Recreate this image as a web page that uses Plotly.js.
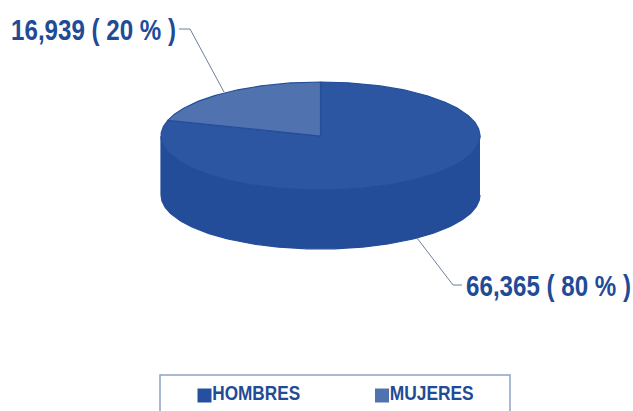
<!DOCTYPE html>
<html>
<head>
<meta charset="utf-8">
<script src="https://cdn.plot.ly/plotly-3.0.1.min.js"></script>
<style>html,body{margin:0;padding:0;background:#fff;overflow:hidden}#c{width:633px;height:411px}</style>
</head>
<body>
<div id="c"></div>
<script>
const categories = ["HOMBRES", "MUJERES"];
const values = [66365, 16939];
const percents = [80, 20];
const topColors = ["#2c56a1", "#5073af"];
const swatchColors = ["#2550a0", "#5073af"];

const sideColor = "#234c99";
const edgeColor = "#234e9b";
const textColor = "#1f4b97";
const FONT = '"Liberation Sans",Arial,sans-serif';

// pie geometry on the pixel-like axes
const cx = 320.5, cy = 136, rx = 159.5, ry = 54, depth = 59;
const total = values.reduce((a, b) => a + b, 0);
const pt = (deg, dy) => [cx + rx * Math.sin(deg * Math.PI / 180), cy - ry * Math.cos(deg * Math.PI / 180) + (dy || 0)];

function arc(a0, a1, dy) {
  const out = [];
  const n = Math.max(2, Math.ceil(Math.abs(a1 - a0)));
  for (let i = 0; i <= n; i++) out.push(pt(a0 + (a1 - a0) * i / n, dy));
  return out;
}
function poly(points, color, line, name) {
  return {
    type: "scatter", mode: "lines", fill: "toself", fillcolor: color,
    x: points.map(p => p[0]), y: points.map(p => p[1]),
    line: { color: line, width: 1.2 }, hoverinfo: "skip", showlegend: false, name: name
  };
}

const traces = [];
traces.push(poly(arc(90, 270, 0).concat(arc(270, 90, depth)), sideColor, sideColor, "side"));
let start = 0;
values.forEach((v, i) => {
  const sweep = v / total * 360;
  const pts = arc(start, start + sweep, 0);
  pts.push([cx, cy]); pts.push(pts[0]);
  traces.push(poly(pts, topColors[i], edgeColor, categories[i]));
  start += sweep;
});
traces.push({
  type: "scatter", mode: "markers+text",
  x: [204.5, 382], y: [395.5, 395.5],
  text: categories, textposition: "middle right",
  textfont: { family: FONT, size: 20, color: textColor, weight: 700 },
  marker: { symbol: "square", size: 14, color: swatchColors, line: { width: 0 } },
  hoverinfo: "skip", showlegend: false, cliponaxis: false
});

const label = i => values[i].toLocaleString("en-US") + " ( " + percents[i] + " % )";
const layout = {
  width: 633, height: 411, margin: { l: 0, r: 0, t: 0, b: 0 },
  paper_bgcolor: "#fff", plot_bgcolor: "#fff", showlegend: false,
  xaxis: { range: [0, 633], visible: false, fixedrange: true },
  yaxis: { range: [411, 0], visible: false, fixedrange: true },
  shapes: [
    { type: "rect", xref: "x", yref: "y", x0: 160, x1: 510, y0: 375, y1: 430, line: { color: "#8ea2c4", width: 1.5 }, layer: "below" },
    { type: "path", xref: "x", yref: "y", path: "M179,29 L190,29 L224,92", line: { color: "#6f7f99", width: 1 } },
    { type: "path", xref: "x", yref: "y", path: "M417,238 L453,285 L462,285", line: { color: "#6f7f99", width: 1 } }
  ],
  annotations: [
    { x: 93, y: 29, xref: "x", yref: "y", xanchor: "center", yanchor: "middle", showarrow: false, text: "<b>" + label(1) + "</b>", font: { family: FONT, size: 30, color: textColor } },
    { x: 548.5, y: 285, xref: "x", yref: "y", xanchor: "center", yanchor: "middle", showarrow: false, text: "<b>" + label(0) + "</b>", font: { family: FONT, size: 30, color: textColor } }
  ]
};
Plotly.newPlot("c", traces, layout, { displayModeBar: false, staticPlot: true }).then(() => {
  // condense the wide fallback bold face to the narrow width of the original lettering
  const fit = (el, w) => {
    const k = w / el.getComputedTextLength();
    const x = parseFloat(el.getAttribute("x")) || 0;
    const prior = el.getAttribute("transform") || "";
    el.setAttribute("transform", prior + " translate(" + x + ",0) scale(" + k + ",1) translate(" + (-x) + ",0)");
  };
  document.querySelectorAll(".annotation-text").forEach(el => fit(el, 165));
  const legendWidths = [88, 84];
  document.querySelectorAll(".textpoint text").forEach((el, i) => {
    el.setAttribute("x", parseFloat(el.getAttribute("x")) - 2);
    fit(el, legendWidths[i]);
  });
});
</script>
</body>
</html>
